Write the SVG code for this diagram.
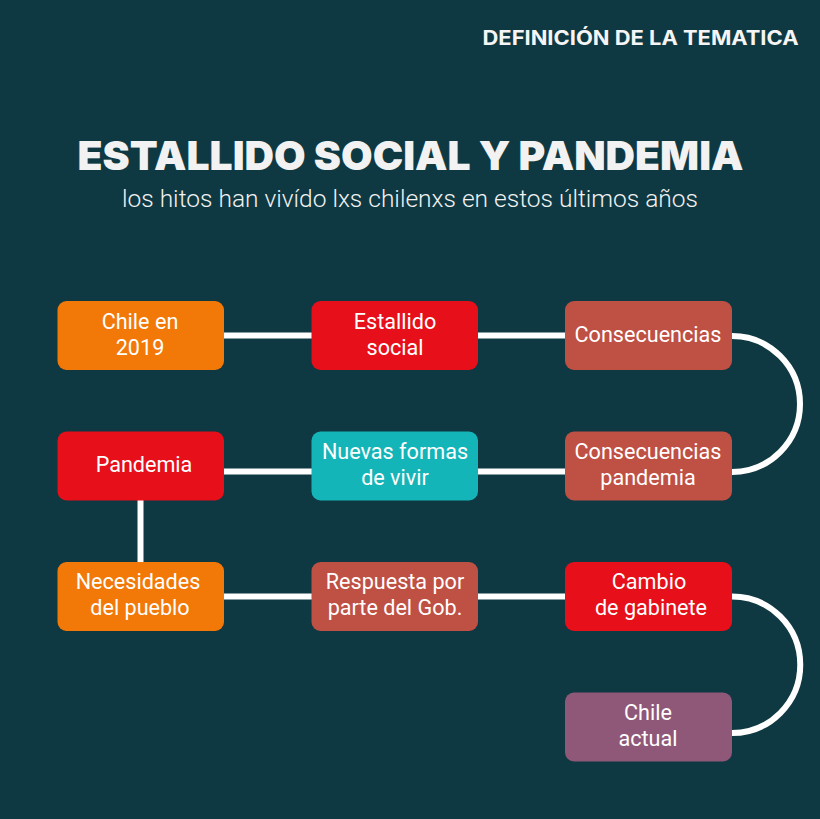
<svg xmlns="http://www.w3.org/2000/svg" width="820" height="819" viewBox="0 0 820 819">
<style>
.n{stroke:none}
.t{font-family:Roboto,"Liberation Sans",sans-serif;font-size:21.600px;fill:#fff;text-anchor:middle}
.c{fill:none;stroke:#fff;stroke-width:6}
</style>
<rect width="820" height="819" fill="#0f3942"/>
<text x="798.500" y="45" text-anchor="end" font-family="Inter,'Liberation Sans',sans-serif" font-weight="700" font-size="20" fill="#f5f5f5" textLength="316" lengthAdjust="spacingAndGlyphs">DEFINICIÓN DE LA TEMATICA</text>
<text x="410.500" y="170" text-anchor="middle" font-family="Inter,'Liberation Sans',sans-serif" font-weight="900" font-size="40" fill="#f2f2f2" textLength="666" lengthAdjust="spacingAndGlyphs">ESTALLIDO SOCIAL Y PANDEMIA</text>
<text x="410" y="207" text-anchor="middle" font-family="Roboto,'Liberation Sans',sans-serif" font-weight="300" font-size="23" fill="#f2f2f2" textLength="576" lengthAdjust="spacingAndGlyphs">los hitos han vivído lxs chilenxs en estos últimos años</text>
<g id="connectors">
<path class="c" d="M224 335.500H565"/>
<path class="c" d="M732 336A68 68 0 0 1 732 472"/>
<path class="c" d="M224 471.500H565"/>
<path class="c" d="M140.500 500V562"/>
<path class="c" d="M224 596.500H565"/>
<path class="c" d="M732 596.500A68 68 0 0 1 732 733"/>
</g>
<g id="n1"><rect class="n" x="57.500" y="301" width="166.500" height="69" rx="9" fill="#f27808"/><text class="t" x="140" y="329">Chile en</text><text class="t" x="140" y="355">2019</text></g>
<g id="n2"><rect class="n" x="311.500" y="301" width="166.500" height="69" rx="9" fill="#e60f1a"/><text class="t" x="395" y="329">Estallido</text><text class="t" x="395" y="355">social</text></g>
<g id="n3"><rect class="n" x="565" y="301" width="167" height="69" rx="9" fill="#bf5044"/><text class="t" x="648" y="342">Consecuencias</text></g>
<g id="n4"><rect class="n" x="57.500" y="431.500" width="166.500" height="69" rx="9" fill="#e60f1a"/><text class="t" x="144" y="472">Pandemia</text></g>
<g id="n5"><rect class="n" x="311.500" y="431.500" width="166.500" height="69" rx="9" fill="#14b5b8"/><text class="t" x="395" y="459">Nuevas formas</text><text class="t" x="395" y="485">de vivir</text></g>
<g id="n6"><rect class="n" x="565" y="431.500" width="167" height="69" rx="9" fill="#bf5044"/><text class="t" x="648" y="459">Consecuencias</text><text class="t" x="648" y="485">pandemia</text></g>
<g id="n7"><rect class="n" x="57.500" y="562" width="166.500" height="69" rx="9" fill="#f27808"/><text class="t" x="138" y="589">Necesidades</text><text class="t" x="140" y="615">del pueblo</text></g>
<g id="n8"><rect class="n" x="311.500" y="562" width="166.500" height="69" rx="9" fill="#bf5044"/><text class="t" x="395" y="589">Respuesta por</text><text class="t" x="395" y="615">parte del Gob.</text></g>
<g id="n9"><rect class="n" x="565" y="562" width="167" height="69" rx="9" fill="#e60f1a"/><text class="t" x="649" y="589">Cambio</text><text class="t" x="651" y="615">de gabinete</text></g>
<g id="n10"><rect class="n" x="565" y="692.500" width="167" height="69" rx="9" fill="#8f5878"/><text class="t" x="648" y="720">Chile</text><text class="t" x="648" y="746">actual</text></g>
</svg>
